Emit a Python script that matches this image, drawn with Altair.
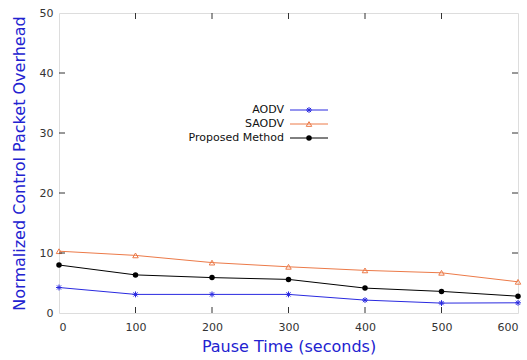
import altair as alt
import pandas as pd

pause = [0, 100, 200, 300, 400, 500, 600]
aodv = [4.25, 3.1, 3.1, 3.1, 2.15, 1.65, 1.7]
saodv = [10.3, 9.6, 8.4, 7.7, 7.1, 6.7, 5.2]
proposed = [8.0, 6.35, 5.9, 5.6, 4.15, 3.6, 2.8]
series = ["AODV", "SAODV", "Proposed Method"]
colors = ["#2a2ae0", "#ec7a48", "#000000"]
x_ticks = [0, 100, 200, 300, 400, 500, 600]
y_ticks = [0, 10, 20, 30, 40, 50]

rows = []
for name, vals in zip(series, [aodv, saodv, proposed]):
    for p, v in zip(pause, vals):
        rows.append({"pause": p, "value": v, "series": name})
df = pd.DataFrame(rows)

W, H = 459, 300
FONT = "DejaVu Sans"
star = "M-1,0L1,0M0,-1L0,1M-0.7,-0.7L0.7,0.7M-0.7,0.7L0.7,-0.7"
shapes = [star, "triangle-up", "circle"]
fills = [False, False, True]
sizes = [35, 30, 30]

xs = alt.Scale(domain=[0, 600], nice=False)
ys = alt.Scale(domain=[0, 50], nice=False)

base = alt.Chart(df)
xenc = alt.X("pause:Q", scale=xs,
             axis=alt.Axis(values=x_ticks, title="Pause Time (seconds)", grid=False,
                           ticks=False, domain=False, labelPadding=8,
                           titleColor="#2222d0", titleFontSize=16, titleFont=FONT,
                           titleFontWeight="normal", titlePadding=6,
                           labelFont=FONT, labelFontSize=11, labelColor="#333"))
yenc = alt.Y("value:Q", scale=ys,
             axis=alt.Axis(values=y_ticks, title="Normalized Control Packet Overhead",
                           grid=False, ticks=False, domain=False, labelPadding=6,
                           titleColor="#2222d0", titleFontSize=16, titleFont=FONT,
                           titleFontWeight="normal", titlePadding=12,
                           labelFont=FONT, labelFontSize=11, labelColor="#333"))

layers = []
for name, col, shp, fl, sz in zip(series, colors, shapes, fills, sizes):
    sub = base.transform_filter(alt.datum.series == name)
    layers.append(sub.mark_line(color=col, strokeWidth=1).encode(x=xenc, y=yenc))
    layers.append(sub.mark_point(color=col, shape=shp, filled=fl, size=sz,
                                 strokeWidth=1, opacity=1).encode(x="pause:Q", y="value:Q"))

# inward ticks (gnuplot style, mirrored)
ydf = pd.DataFrame({"v": y_ticks[1:-1]})
xdf = pd.DataFrame({"v": x_ticks[1:-1]})
tk = dict(color="#333", strokeWidth=1)
layers.append(alt.Chart(ydf).mark_rule(**tk).encode(y=alt.Y("v:Q", scale=ys), x=alt.value(0), x2=alt.value(6)))
layers.append(alt.Chart(ydf).mark_rule(**tk).encode(y=alt.Y("v:Q", scale=ys), x=alt.value(W - 6), x2=alt.value(W)))
layers.append(alt.Chart(xdf).mark_rule(**tk).encode(x=alt.X("v:Q", scale=xs), y=alt.value(H), y2=alt.value(H - 6)))
layers.append(alt.Chart(xdf).mark_rule(**tk).encode(x=alt.X("v:Q", scale=xs), y=alt.value(0), y2=alt.value(6)))

# legend (text left of sample, gnuplot style)
ldf = pd.DataFrame({"series": series})
for i, (name, col, shp, fl, sz) in enumerate(zip(series, colors, shapes, fills, sizes)):
    yy = 97 + 14 * i
    one = alt.Chart(ldf).transform_filter(alt.datum.series == name)
    layers.append(one.mark_text(align="right", baseline="middle", font=FONT, fontSize=11,
                                color="#111").encode(text="series:N", x=alt.value(225), y=alt.value(yy)))
    layers.append(one.mark_rule(color=col, strokeWidth=1).encode(x=alt.value(231), x2=alt.value(269), y=alt.value(yy)))
    layers.append(one.mark_point(color=col, shape=shp, filled=fl, size=sz, strokeWidth=1,
                                 opacity=1).encode(x=alt.value(250), y=alt.value(yy)))

chart = alt.layer(*layers).properties(
    width=W, height=H,
    autosize=alt.AutoSizeParams(type="none"),
    padding={"left": 59, "top": 13, "right": 9, "bottom": 47},
).configure_view(stroke="#333", strokeWidth=1).configure(background="white")

chart.save("out.html", embed_options={"renderer": "svg", "actions": False})
